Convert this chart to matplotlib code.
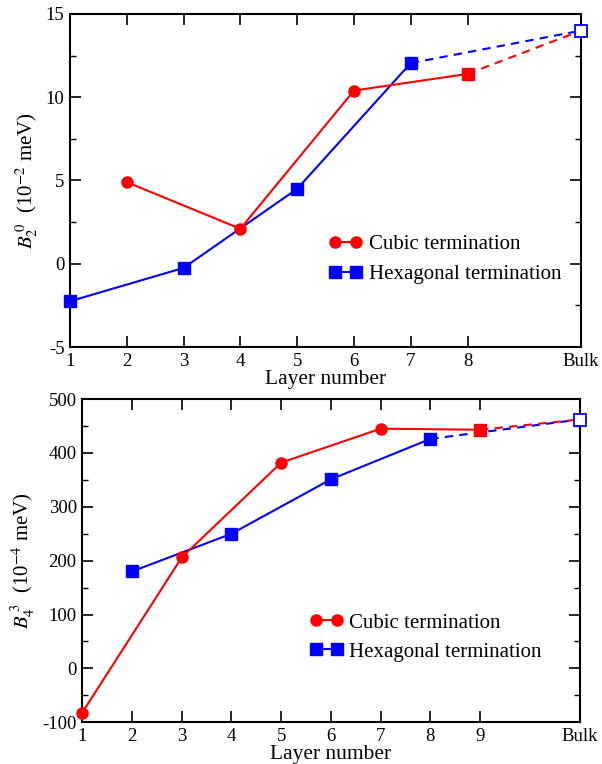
import numpy as np
import matplotlib
matplotlib.use('Agg')
import matplotlib.pyplot as plt
from matplotlib.ticker import MultipleLocator
from matplotlib.lines import Line2D

plt.rcParams['font.family'] = ['Liberation Serif', 'DejaVu Serif']
plt.rcParams['mathtext.fontset'] = 'stix'
plt.rcParams['axes.unicode_minus'] = False

# B2^0 per layer (10^-2 meV), "Bulk" sits at x = 10
top_cubic_x = [2, 4, 6, 8]
top_cubic = [4.9, 2.1, 10.4, 11.4]
top_hex_x = [1, 3, 5, 7]
top_hex = [-2.25, -0.25, 4.5, 12.05]
top_bulk_x = 10
top_bulk = 14.0
top_ticks = [1, 2, 3, 4, 5, 6, 7, 8, 10]
top_ticklabels = ['1', '2', '3', '4', '5', '6', '7', '8', 'Bulk']

# B4^3 per layer (10^-4 meV), "Bulk" sits at x = 11
bot_cubic_x = [1, 3, 5, 7, 9]
bot_cubic = [-82, 206, 382, 445, 443]
bot_hex_x = [2, 4, 6, 8]
bot_hex = [180, 250, 351, 426]
bot_bulk_x = 11
bot_bulk = 462
bot_ticks = [1, 2, 3, 4, 5, 6, 7, 8, 9, 11]
bot_ticklabels = ['1', '2', '3', '4', '5', '6', '7', '8', '9', 'Bulk']

red = '#ff0000'
blue = '#0000ff'

fig = plt.figure(figsize=(6.02, 7.64), dpi=100)
ax1 = fig.add_axes([0.1163, 0.5458, 0.849, 0.4359])
ax2 = fig.add_axes([0.1367, 0.0546, 0.826, 0.4231])


def draw_panel(ax, cx, cy, hx, hy, bx, by):
    # dashed extrapolation to bulk
    ax.plot([hx[-1], bx], [hy[-1], by], color=blue, lw=1.5, ls=(0, (4, 3)), zorder=2)
    ax.plot([cx[-1], bx], [cy[-1], by], color=red, lw=1.5, ls=(0, (4, 3)), zorder=2)
    # solid layer series
    ax.plot(hx, hy, color=blue, lw=1.5, marker='s', ms=8, zorder=3, clip_on=False)
    ax.plot(cx, cy, color=red, lw=1.5, zorder=3)
    ax.plot(cx[:-1], cy[:-1], ls='none', color=red, marker='o', ms=8, zorder=4, clip_on=False)
    ax.plot(cx[-1:], cy[-1:], ls='none', color=red, marker='s', ms=8, zorder=4)
    ax.plot([bx], [by], ls='none', marker='s', ms=9, mfc='white', mec=blue, mew=1.3,
            zorder=5, clip_on=False)


draw_panel(ax1, top_cubic_x, top_cubic, top_hex_x, top_hex, top_bulk_x, top_bulk)
# layer 9 of the bottom panel carries both a circle and a square
ax2.plot(bot_cubic_x[-1:], bot_cubic[-1:], ls='none', color=red, marker='o', ms=8, zorder=3)
draw_panel(ax2, bot_cubic_x, bot_cubic, bot_hex_x, bot_hex, bot_bulk_x, bot_bulk)

ax1.set_xlim(1, 10)
ax1.set_ylim(-5, 15)
ax1.set_xticks(top_ticks)
ax1.set_xticklabels(top_ticklabels)
ax1.yaxis.set_major_locator(MultipleLocator(5))
ax1.yaxis.set_minor_locator(MultipleLocator(2.5))
ax1.set_ylabel(r'$\mathit{B}_{2}^{\;0}$  (10$^{-2}$ meV)', fontsize=15, labelpad=4)

ax2.set_xlim(1, 11)
ax2.set_ylim(-100, 500)
ax2.set_xticks(bot_ticks)
ax2.set_xticklabels(bot_ticklabels)
ax2.yaxis.set_major_locator(MultipleLocator(100))
ax2.yaxis.set_minor_locator(MultipleLocator(50))
ax2.set_ylabel(r'$\mathit{B}_{4}^{\;3}$  (10$^{-4}$ meV)', fontsize=15, labelpad=4)

for ax in (ax1, ax2):
    ax.set_xlabel('Layer number', fontsize=15.5, labelpad=0)
    ax.tick_params(which='both', direction='in', top=True, right=True, labelsize=13.5)
    ax.tick_params(which='major', length=8, width=1.2, pad=4)
    ax.tick_params(which='minor', length=4, width=1.0)
    for sp in ax.spines.values():
        sp.set_linewidth(1.5)

handles = [
    Line2D([], [], color=red, lw=1.5, marker='o', ms=8),
    Line2D([], [], color=blue, lw=1.5, marker='s', ms=8),
]
labels = ['Cubic termination', 'Hexagonal termination']
ax1.legend(handles, labels, loc='center left', bbox_to_anchor=(0.47, 0.264),
           frameon=False, fontsize=15, numpoints=2, handlelength=1.6,
           handletextpad=0.3, labelspacing=0.5)
ax2.legend(handles, labels, loc='center left', bbox_to_anchor=(0.42, 0.263),
           frameon=False, fontsize=15, numpoints=2, handlelength=1.6,
           handletextpad=0.3, labelspacing=0.45)

fig.savefig('out.png', dpi=100)
